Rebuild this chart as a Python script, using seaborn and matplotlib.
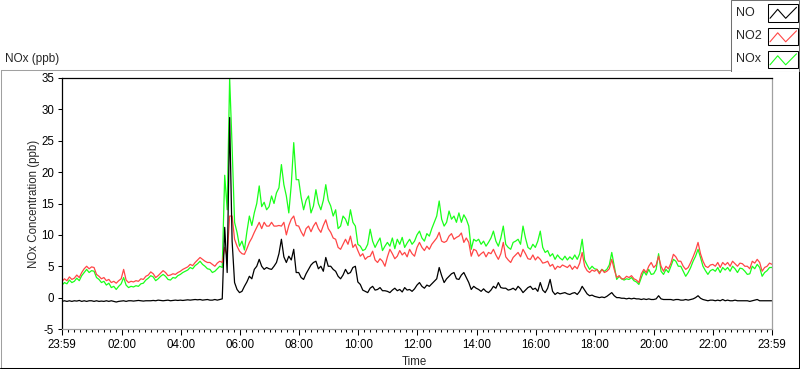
import numpy as np
import pandas as pd
import seaborn as sns
import matplotlib.pyplot as plt
from matplotlib.patches import Rectangle

# 5-minute readings from 23:59 to 23:59, one row per hour
no = [
    -0.6, -0.5, -0.6, -0.5, -0.6, -0.5, -0.55, -0.45, -0.6, -0.5, -0.6, -0.5,
    -0.5, -0.6, -0.5, -0.6, -0.55, -0.6, -0.5, -0.6, -0.5, -0.6, -0.7, -0.6,
    -0.55, -0.5, -0.6, -0.5, -0.5, -0.55, -0.5, -0.45, -0.5, -0.55, -0.5, -0.5,
    -0.5, -0.45, -0.5, -0.4, -0.45, -0.5, -0.45, -0.4, -0.5, -0.45, -0.4, -0.45,
    -0.4, -0.45, -0.4, -0.35, -0.4, -0.35, -0.3, -0.35, -0.3, -0.4, -0.35, -0.3,
    -0.4, -0.4, -0.3, -0.4, -0.3, -0.2, 11.2, 4.0, 28.7, 9.0, 2.4, 1.3,
    0.8, 1.0, 1.8, 2.5, 3.4, 3.0, 4.5, 5.0, 6.1, 5.0, 4.5, 4.8,
    4.6, 4.5, 5.0, 5.6, 7.0, 9.3, 6.5, 5.6, 6.6, 6.0, 7.7, 4.0,
    4.0, 3.2, 2.9, 3.8, 4.5, 5.2, 5.6, 5.8, 4.6, 5.0, 4.2, 6.4,
    5.0, 5.0, 4.5, 4.2, 3.4, 3.0, 3.6, 4.5, 3.8, 4.0, 4.8, 5.0,
    2.5, 2.1, 1.2, 1.0, 0.8, 1.5, 1.8, 1.2, 1.3, 1.6, 1.1, 1.1,
    1.0, 0.8, 1.2, 1.5, 1.1, 1.3, 0.9, 1.6, 1.2, 1.3, 1.0, 1.4,
    2.0, 2.4, 1.8, 1.5, 2.0, 1.8, 2.2, 2.6, 3.0, 4.8, 3.5, 2.4,
    3.0, 3.4, 3.8, 4.0, 3.0, 2.9, 3.6, 4.0, 3.2, 2.4, 1.3, 1.8,
    1.5, 1.3, 1.0, 1.4, 1.0, 0.8, 1.2, 1.8, 1.5, 2.4, 1.6, 1.5,
    1.5, 1.2, 1.3, 1.5, 1.2, 1.8, 1.4, 0.8, 1.2, 1.6, 1.8, 1.3,
    1.5, 1.0, 2.4, 1.2, 0.8, 1.5, 2.9, 1.0, 0.5, 0.8, 0.6, 0.7,
    0.8, 0.6, 0.5, 0.7, 0.8, 0.5, 1.0, 1.8, 1.2, 0.6, 0.3, 0.4,
    0.2, 0.1, 0.0, 0.1, 0.0, 0.2, 0.5, 0.8, 0.3, 0.0, 0.0, -0.1,
    -0.1, -0.2, -0.1, -0.2, -0.1, -0.2, -0.2, -0.3, -0.2, -0.3, -0.2, -0.3,
    -0.3, -0.2, 0.3, -0.2, -0.3, -0.3, -0.3, -0.3, -0.4, -0.3, -0.3, -0.4,
    -0.4, -0.3, -0.4, -0.3, -0.2, 0.0, 0.3, -0.1, -0.3, -0.4, -0.5, -0.4,
    -0.4, -0.5, -0.4, -0.5, -0.3, -0.5, -0.4, -0.5, -0.5, -0.4, -0.5, -0.5,
    -0.5, -0.5, -0.5, -0.6, -0.5, -0.4, -0.3, -0.5, -0.5, -0.5, -0.5, -0.5, -0.5,
]

no2 = [
    2.6, 3.0, 2.7, 3.3, 2.9, 3.1, 3.6, 3.2, 4.0, 4.6, 5.0, 4.6,
    4.9, 4.8, 3.7, 3.4, 3.0, 3.2, 2.7, 2.9, 2.4, 2.6, 2.3, 2.7,
    3.0, 4.5, 2.8, 2.4, 2.6, 2.5, 2.7, 2.6, 3.0, 2.9, 3.4, 3.6,
    4.1, 3.8, 3.2, 3.5, 3.9, 4.3, 4.0, 3.5, 3.6, 3.8, 3.7, 4.0,
    4.2, 4.5, 4.7, 4.9, 5.3, 5.1, 5.6, 6.0, 6.4, 6.1, 5.8, 5.6,
    5.6, 5.3, 5.0, 5.5, 5.8, 5.6, 8.0, 6.5, 13.0, 13.0, 9.3, 8.2,
    7.4, 7.0, 6.9, 7.8, 8.8, 9.5, 10.4, 11.2, 12.0, 11.0, 12.0, 11.4,
    11.4, 12.0, 11.4, 11.4, 11.5, 11.4, 12.0, 10.0, 11.5, 12.5, 13.0, 11.5,
    11.4, 10.5, 9.8, 11.0, 11.4, 10.5, 11.4, 12.0, 11.0, 10.4, 11.5, 12.4,
    11.0, 10.4, 9.5, 9.3, 8.0, 7.7, 8.5, 9.3, 8.5, 9.8, 8.0, 8.5,
    7.5, 6.6, 7.0, 6.1, 6.5, 6.6, 7.4, 6.0, 5.6, 6.2, 5.8, 5.0,
    6.5, 7.7, 7.0, 6.2, 6.6, 7.5, 6.8, 7.2, 6.5, 7.7, 7.0, 6.6,
    8.0, 8.8, 8.0, 7.5, 8.2, 7.7, 8.5, 9.0, 9.5, 10.4, 9.0, 8.8,
    9.0, 9.8, 10.2, 9.3, 9.6, 9.8, 10.3, 8.8, 9.5, 8.8, 6.6, 7.7,
    7.5, 6.6, 7.0, 7.3, 6.5, 7.2, 7.0, 7.7, 6.8, 6.1, 7.0, 8.8,
    6.5, 6.0, 5.6, 6.4, 6.8, 7.2, 6.5, 7.7, 7.0, 6.2, 6.1, 6.8,
    6.0, 6.5, 6.1, 5.5, 5.6, 5.8, 5.0, 5.3, 4.5, 5.0, 4.8, 5.2,
    5.0, 4.8, 5.2, 4.5, 5.0, 4.6, 5.5, 7.2, 5.0, 4.3, 4.0, 4.4,
    4.2, 4.5, 3.8, 4.5, 4.0, 4.2, 4.6, 6.1, 4.5, 3.2, 3.5, 3.0,
    3.0, 3.4, 3.2, 3.5, 3.0, 2.8, 2.4, 3.8, 4.5, 4.0, 5.0, 5.6,
    4.8, 5.2, 6.6, 5.0, 4.2, 5.0, 4.6, 5.5, 6.9, 6.5, 5.8, 5.8,
    5.0, 4.5, 4.8, 5.6, 6.5, 7.5, 8.8, 7.0, 5.8, 5.0, 4.8, 5.2,
    5.3, 5.0, 5.6, 4.8, 5.6, 5.2, 5.6, 5.0, 5.8, 5.4, 5.0, 5.5,
    5.4, 5.0, 5.0, 4.6, 5.8, 5.5, 6.1, 5.6, 4.2, 4.8, 5.0, 5.5, 5.3,
]

nox = [
    2.0, 2.4, 2.2, 2.8, 2.4, 2.6, 3.1, 2.7, 3.5, 4.0, 4.5, 4.0,
    4.3, 4.2, 3.2, 2.9, 2.4, 2.6, 2.0, 2.3, 1.6, 1.8, 1.3, 1.8,
    2.2, 3.2, 2.0, 1.6, 1.8, 1.7, 1.9, 1.8, 2.2, 2.3, 2.8, 3.1,
    3.5, 3.3, 2.7, 3.0, 3.4, 3.7, 3.4, 2.9, 2.8, 3.2, 3.1, 3.5,
    3.7, 4.0, 4.2, 4.4, 4.8, 4.6, 5.1, 5.4, 5.8, 5.3, 5.0, 4.6,
    4.5, 4.0, 4.2, 4.6, 5.0, 4.8, 19.5, 14.0, 35.0, 24.0, 12.0, 10.4,
    8.2, 9.0, 7.6, 10.5, 13.0, 11.5, 13.5, 15.0, 17.8, 14.5, 15.2, 14.0,
    14.5, 16.2, 15.0, 16.7, 17.5, 21.2, 18.0, 16.2, 13.5, 18.0, 24.7, 18.8,
    18.8, 16.0, 14.0, 15.5, 16.2, 13.5, 14.6, 17.2, 15.0, 14.0, 15.5, 18.0,
    15.5, 14.6, 13.0, 14.0, 11.0, 11.4, 13.0, 12.5, 11.5, 14.0, 12.0, 11.4,
    8.5, 8.2, 7.5, 7.7, 8.5, 10.9, 9.0, 8.0, 8.8, 9.5, 7.5, 8.2,
    8.8, 8.2, 9.5, 7.8, 9.3, 8.5, 9.6, 8.0, 8.7, 9.3, 8.5, 9.0,
    10.0, 10.6, 9.5, 9.0, 10.2, 9.8, 11.0, 12.0, 13.0, 15.4, 12.5, 11.4,
    12.0, 13.8, 12.5, 13.0, 12.0, 13.5, 12.0, 13.2, 12.5, 11.4, 7.7, 9.3,
    9.0, 9.3, 8.5, 9.0, 8.2, 8.8, 9.5, 10.6, 9.0, 8.2, 9.5, 11.4,
    8.5, 8.0, 7.7, 8.8, 9.0, 9.3, 8.5, 11.4, 9.5, 8.0, 7.7, 8.5,
    8.0, 9.0, 10.6, 8.0, 7.2, 7.5, 6.6, 7.0, 6.1, 6.8, 6.3, 6.0,
    6.6, 6.0, 6.5, 6.1, 6.8, 6.1, 7.0, 9.3, 6.0, 5.2, 4.5, 5.0,
    4.6, 4.5, 4.0, 4.5, 4.2, 4.5, 5.2, 7.2, 5.0, 2.9, 3.4, 3.0,
    2.8, 3.0, 2.9, 3.2, 2.7, 2.5, 2.1, 3.2, 4.2, 3.6, 4.5, 3.7,
    3.8, 4.5, 7.0, 4.2, 3.7, 4.5, 4.0, 5.0, 6.1, 5.8, 5.0, 5.0,
    4.2, 3.4, 4.0, 4.8, 5.8, 6.6, 7.7, 6.4, 5.0, 4.3, 3.7, 4.3,
    4.5, 4.2, 4.8, 4.0, 4.8, 4.4, 4.8, 4.2, 5.0, 4.6, 4.0, 4.7,
    4.6, 4.2, 3.7, 3.8, 5.0, 4.6, 5.3, 4.8, 3.4, 4.0, 4.3, 4.8, 4.8,
]

x_ticks = [-1 / 60, 2, 4, 6, 8, 10, 12, 14, 16, 18, 20, 22, 24 - 1 / 60]
x_labels = ['23:59', '02:00', '04:00', '06:00', '08:00', '10:00', '12:00',
            '14:00', '16:00', '18:00', '20:00', '22:00', '23:59']
y_ticks = [-5, 0, 5, 10, 15, 20, 25, 30, 35]

hours = np.arange(len(no)) * 5 / 60 - 1 / 60
df = pd.DataFrame({'Time': hours, 'NO': no, 'NO2': no2, 'NOx': nox})

colors = {'NO': '#000000', 'NO2': '#ff4646', 'NOx': '#1aff1a'}

sns.set_style('ticks')
plt.rcParams['font.family'] = ['Liberation Sans', 'DejaVu Sans']
plt.rcParams['font.size'] = 8.3

fig = plt.figure(figsize=(8, 3.69), dpi=100)
fig.patch.set_facecolor('white')

# panel frame, drawn in pixel coordinates
bg = fig.add_axes([0, 0, 1, 1])
bg.set_xlim(0, 800)
bg.set_ylim(369, 0)
bg.axis('off')
bg.plot([0.5, 730], [69.5, 69.5], color='#a0a0a0', lw=0.75)
bg.plot([0.5, 0.5], [69.5, 368], color='#a0a0a0', lw=0.75)
bg.plot([0, 799], [367.8, 367.8], color='black', lw=0.75)
bg.plot([798.6, 798.6], [71, 368], color='black', lw=0.75)
bg.text(5, 59, 'NOx (ppb)', fontsize=8.5, ha='left', va='center')

ax = fig.add_axes([62 / 800, 1 - 329 / 369, 710 / 800, 251 / 369])
ax.set_facecolor('white')
for name in ['NOx', 'NO2', 'NO']:
    sns.lineplot(data=df, x='Time', y=name, color=colors[name], lw=0.9,
                 errorbar=None, ax=ax)

ax.set_xlim(-1 / 60, 24 - 1 / 60)
ax.set_ylim(-5, 35)
ax.set_xticks(x_ticks)
ax.set_xticklabels(x_labels)
minor = [m / 5 for m in range(1, 120) if m % 10 != 0]
ax.set_xticks(minor, minor=True)
ax.set_yticks(y_ticks)
ax.set_yticklabels([str(v) for v in y_ticks])

ax.tick_params(axis='x', which='major', direction='out', length=4.5, width=0.75,
               pad=2.5, color='black', labelcolor='black', labelsize=8.3)
ax.tick_params(axis='x', which='minor', direction='out', length=2.5, width=0.75,
               color='black')
ax.tick_params(axis='y', which='major', direction='out', length=3.2, width=0.75,
               pad=2.5, color='black', labelcolor='black', labelsize=8.3)

for side in ['top', 'left']:
    ax.spines[side].set_color('black')
    ax.spines[side].set_linewidth(0.9)
for side in ['right', 'bottom']:
    ax.spines[side].set_color('#a0a0a0')
    ax.spines[side].set_linewidth(0.9)

ax.set_xlabel('Time', fontsize=8.3)
ax.set_ylabel('NOx Concentration (ppb)', fontsize=8.3)
ax.xaxis.set_label_coords(0.496, -0.108)
ax.yaxis.set_label_coords(-0.031, 0.5)

# plot legend in the top right corner
lg = fig.add_axes([730 / 800, 1 - 72 / 369, 70 / 800, 72 / 369])
lg.set_xlim(730, 800)
lg.set_ylim(72, 0)
lg.axis('off')
lg.add_patch(Rectangle((730.5, 0), 68, 71.5, facecolor='white',
                       edgecolor='#707070', lw=0.75))
for top, name in zip([4, 27.5, 50.5], ['NO', 'NO2', 'NOx']):
    lg.text(736, top + 8.8, name, fontsize=9, ha='left', va='center')
    lg.add_patch(Rectangle((768, top), 29.5, 17.5, facecolor='white',
                           edgecolor='black', lw=0.75))
    lg.plot([770, 777.7, 785.7, 796.5],
            [top + 14.3, top + 5.3, top + 14.3, top + 3.3],
            color=colors[name], lw=0.8)

fig.savefig('out.png', dpi=100, facecolor='white')
